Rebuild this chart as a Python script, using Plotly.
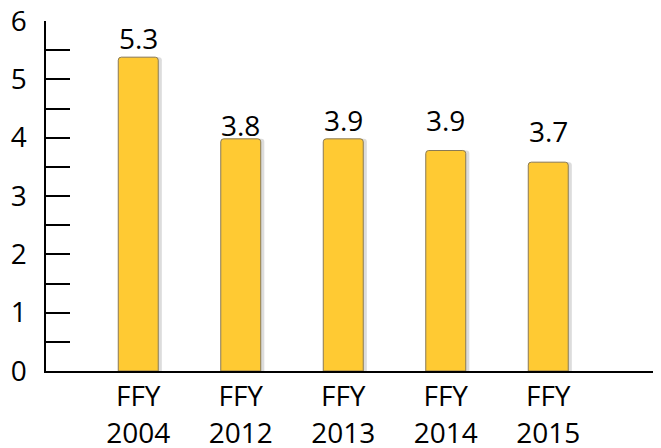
import plotly.graph_objects as go

categories = ["FFY<br>2004", "FFY<br>2012", "FFY<br>2013", "FFY<br>2014", "FFY<br>2015"]
bar_values = [5.38, 3.98, 3.98, 3.78, 3.58]
label_values = [5.3, 3.8, 3.9, 3.9, 3.7]
label_texts = ["5.3", "3.8", "3.9", "3.9", "3.7"]
y_tick_vals = [0, 0.5, 1, 1.5, 2, 2.5, 3, 3.5, 4, 4.5, 5, 5.5, 6]
y_tick_text = ["0", "", "1", "", "2", "", "3", "", "4", "", "5", "", "6"]

FONT = "Open Sans"
FS = 28
BAR_W = 0.39
x_idx = list(range(len(categories)))

fig = go.Figure()
# soft shadow to the right of each bar
fig.add_trace(go.Bar(
    x=x_idx, y=bar_values, width=BAR_W, offset=-BAR_W / 2 + 0.035,
    marker=dict(color="#DCDCDC", line=dict(width=0), cornerradius=3),
    hoverinfo="skip",
))
fig.add_trace(go.Bar(
    x=x_idx, y=bar_values, width=BAR_W, offset=-BAR_W / 2,
    marker=dict(color="#FFCA33", line=dict(color="#8A7A55", width=1), cornerradius=3),
    hoverinfo="skip",
))

for xi, lv, lt in zip(x_idx, label_values, label_texts):
    fig.add_annotation(x=xi, y=lv, text=lt, showarrow=False, yanchor="middle",
                       yshift=24, font=dict(family=FONT, size=FS, color="#000"))

# the page body adds an 8px margin, so the margins are compensated here
fig.update_layout(
    width=661, height=448,
    margin=dict(l=38, r=8, t=13, b=85),
    plot_bgcolor="white", paper_bgcolor="white",
    showlegend=False, barmode="overlay",
    font=dict(family=FONT, size=FS, color="#000"),
)
fig.update_xaxes(
    range=[-0.9, 5.1], tickvals=x_idx, ticktext=categories,
    showline=True, linecolor="#000", linewidth=1.5, showgrid=False, zeroline=False,
    ticks="", ticklabelstandoff=0, automargin=False, ticklabeloverflow="allow",
    tickfont=dict(family=FONT, size=FS, color="#000"),
)
fig.update_yaxes(
    range=[0, 6], tickvals=y_tick_vals, ticktext=y_tick_text,
    showline=True, linecolor="#000", linewidth=1.5, showgrid=False, zeroline=False,
    ticks="inside", ticklen=24, tickwidth=1.5, tickcolor="#000",
    ticklabelstandoff=12, automargin=False, ticklabeloverflow="allow",
    tickfont=dict(family=FONT, size=FS, color="#000"),
)

fig.write_html("out.html")
